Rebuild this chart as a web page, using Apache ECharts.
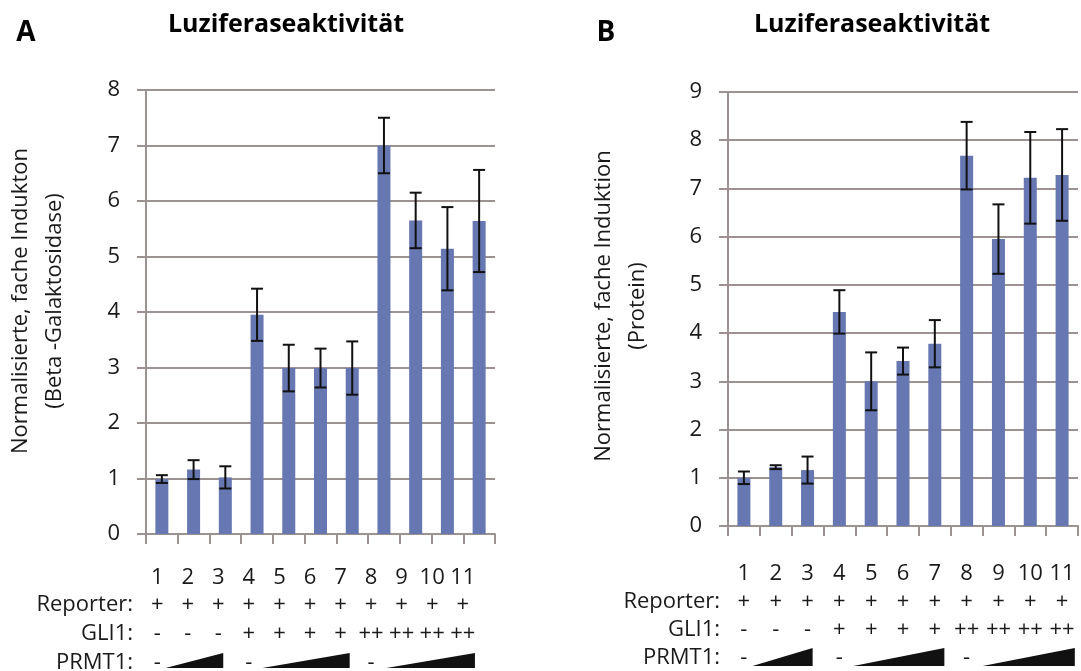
<!DOCTYPE html>
<html>
<head>
<meta charset="utf-8">
<script src="https://cdn.jsdelivr.net/npm/echarts@6/dist/echarts.min.js"></script>
<style>html,body{margin:0;padding:0;background:#fff;}#c{width:1081px;height:671px;}</style>
</head>
<body>
<div id="c"></div>
<script>
// ---- data ----
var lanes = ['1','2','3','4','5','6','7','8','9','10','11'];
var valuesA = [0.99, 1.16, 1.02, 3.95, 2.99, 2.99, 2.99, 7.0, 5.65, 5.14, 5.64];
var errorsA = [0.07, 0.17, 0.20, 0.47, 0.42, 0.35, 0.48, 0.50, 0.50, 0.75, 0.92];
var valuesB = [1.00, 1.22, 1.16, 4.44, 3.00, 3.42, 3.78, 7.68, 5.95, 7.22, 7.28];
var errorsB = [0.13, 0.04, 0.28, 0.45, 0.60, 0.28, 0.49, 0.70, 0.72, 0.95, 0.95];
var reporter = ['+','+','+','+','+','+','+','+','+','+','+'];
var gli1 = ['-','-','-','+','+','+','+','++','++','++','++'];
var prmt1 = ['-','','','-','','','','-','','',''];
var wedges = [[1.27, 3.16], [4.44, 7.3], [8.5, 11.4]]; // lane ranges of PRMT1 wedges
var yTicksA = {min: 0, max: 8, interval: 1};
var yTicksB = {min: 0, max: 9, interval: 1};

var FONT = '"Open Sans", "Noto Sans", sans-serif';
var TXT = '#1a1a1a';
var GRID = '#9d9292';
var BAR = '#6677b1';
var FS = 22;

function errData(vals, errs) {
  return vals.map(function (v, i) { return [i, v - errs[i], v + errs[i]]; });
}
function errRender(params, api) {
  var i = api.value(0);
  var lo = api.coord([i, api.value(1)]);
  var hi = api.coord([i, api.value(2)]);
  var h = 6;
  var st = {stroke: '#111', lineWidth: 2};
  return {type: 'group', children: [
    {type: 'line', shape: {x1: hi[0], y1: hi[1], x2: lo[0], y2: lo[1]}, style: st},
    {type: 'line', shape: {x1: hi[0] - h, y1: hi[1], x2: hi[0] + h, y2: hi[1]}, style: st},
    {type: 'line', shape: {x1: lo[0] - h, y1: lo[1], x2: lo[0] + h, y2: lo[1]}, style: st}
  ]};
}
function wedgeRender(bottomOff, topOff) {
  return function (params, api) {
    var c0 = api.coord([0, 0])[0];
    var c10 = api.coord([10, 0])[0];
    var band = (c10 - c0) / 10;
    var x0 = c0 + (api.value(0) - 1) * band;
    var x1 = c0 + (api.value(1) - 1) * band;
    var gb = params.coordSys.y + params.coordSys.height;
    return {type: 'polygon', shape: {points: [[x0, gb + bottomOff], [x1, gb + topOff], [x1, gb + bottomOff]]},
      style: {fill: '#111'}};
  };
}

function mainX(grid) {
  return {type: 'category', gridIndex: grid, data: lanes,
    axisLine: {show: true, lineStyle: {color: GRID, width: 2}},
    axisTick: {show: true, length: 10, lineStyle: {color: GRID, width: 2}},
    axisLabel: {show: false}, splitLine: {show: false}};
}
function mainY(grid, t, name, gap, pad) {
  return {type: 'value', gridIndex: grid, min: t.min, max: t.max, interval: t.interval,
    axisLine: {show: true, lineStyle: {color: GRID, width: 2}},
    axisTick: {show: true, length: 9, lineStyle: {color: GRID, width: 2}},
    splitLine: {show: true, lineStyle: {color: GRID, width: 2}},
    axisLabel: {fontSize: FS, fontFamily: FONT, color: TXT, margin: 26},
    name: name, nameLocation: 'middle', nameGap: gap, nameRotate: 90,
    nameTextStyle: {fontSize: FS, fontFamily: FONT, color: TXT, lineHeight: 34, padding: pad}};
}
function rowX(grid, data, offset, name, nameGap) {
  return {type: 'category', gridIndex: grid, data: data, offset: offset, position: 'bottom',
    axisLine: {show: false}, axisTick: {show: false}, splitLine: {show: false},
    axisLabel: {interval: 0, fontSize: FS, fontFamily: FONT, color: TXT, margin: 0, verticalAlign: 'middle'},
    name: name, nameLocation: 'start', nameGap: nameGap,
    nameTextStyle: {fontSize: FS, fontFamily: FONT, color: TXT, verticalAlign: 'middle', align: 'right'}};
}

var chart = echarts.init(document.getElementById('c'), null, {renderer: 'canvas'});
chart.setOption({
  animation: false,
  backgroundColor: '#fff',
  graphic: [
    {type: 'text', style: {text: 'A', x: 26, y: 33, font: 'bold 28px ' + FONT, fill: '#000', align: 'center', verticalAlign: 'middle'}},
    {type: 'text', style: {text: 'B', x: 606, y: 33, font: 'bold 28px ' + FONT, fill: '#000', align: 'center', verticalAlign: 'middle'}},
    {type: 'text', style: {text: 'Luziferaseaktivität', x: 286, y: 25, font: 'bold 25px ' + FONT, fill: '#000', align: 'center', verticalAlign: 'middle'}},
    {type: 'text', style: {text: 'Luziferaseaktivität', x: 872, y: 25, font: 'bold 25px ' + FONT, fill: '#000', align: 'center', verticalAlign: 'middle'}}
  ],
  grid: [
    {left: 146, top: 90, width: 349, height: 444, outerBoundsMode: 'none', containLabel: false},
    {left: 728, top: 92, width: 350, height: 434, outerBoundsMode: 'none', containLabel: false},
    {left: 142, top: 90, width: 336, height: 444, outerBoundsMode: 'none', containLabel: false},
    {left: 728, top: 92, width: 350, height: 434, outerBoundsMode: 'none', containLabel: false}
  ],
  xAxis: [
    mainX(0), mainX(1),
    rowX(2, lanes, 44, '', 9),
    rowX(2, reporter, 71, 'Reporter:', 9),
    rowX(2, gli1, 100, 'GLI1:', 9),
    rowX(2, prmt1, 129, 'PRMT1:', 9),
    rowX(3, lanes, 48, '', 8),
    rowX(3, reporter, 76, 'Reporter:', 8),
    rowX(3, gli1, 104, 'GLI1:', 8),
    rowX(3, prmt1, 132, 'PRMT1:', 8)
  ],
  yAxis: [
    mainY(0, yTicksA, 'Normalisierte, fache Indukton\n(Beta -Galaktosidase)', 74, [0, 0, 0, 22]),
    mainY(1, yTicksB, 'Normalisierte, fache Induktion\n(Protein)', 73, [0, 0, 0, 6]),
    {type: 'value', gridIndex: 2, show: false, min: 0, max: 12},
    {type: 'value', gridIndex: 3, show: false, min: 0, max: 12}
  ],
  series: [
    {type: 'bar', xAxisIndex: 0, yAxisIndex: 0, data: valuesA, barWidth: 13, itemStyle: {color: BAR}},
    {type: 'bar', xAxisIndex: 1, yAxisIndex: 1, data: valuesB, barWidth: 13, itemStyle: {color: BAR}},
    {type: 'custom', xAxisIndex: 0, yAxisIndex: 0, data: errData(valuesA, errorsA), renderItem: errRender, z: 5},
    {type: 'custom', xAxisIndex: 1, yAxisIndex: 1, data: errData(valuesB, errorsB), renderItem: errRender, z: 5},
    {type: 'custom', xAxisIndex: 2, yAxisIndex: 2, data: wedges, renderItem: wedgeRender(134, 119)},
    {type: 'custom', xAxisIndex: 6, yAxisIndex: 3, data: wedges, renderItem: wedgeRender(140, 122)}
  ]
});
</script>
</body>
</html>
